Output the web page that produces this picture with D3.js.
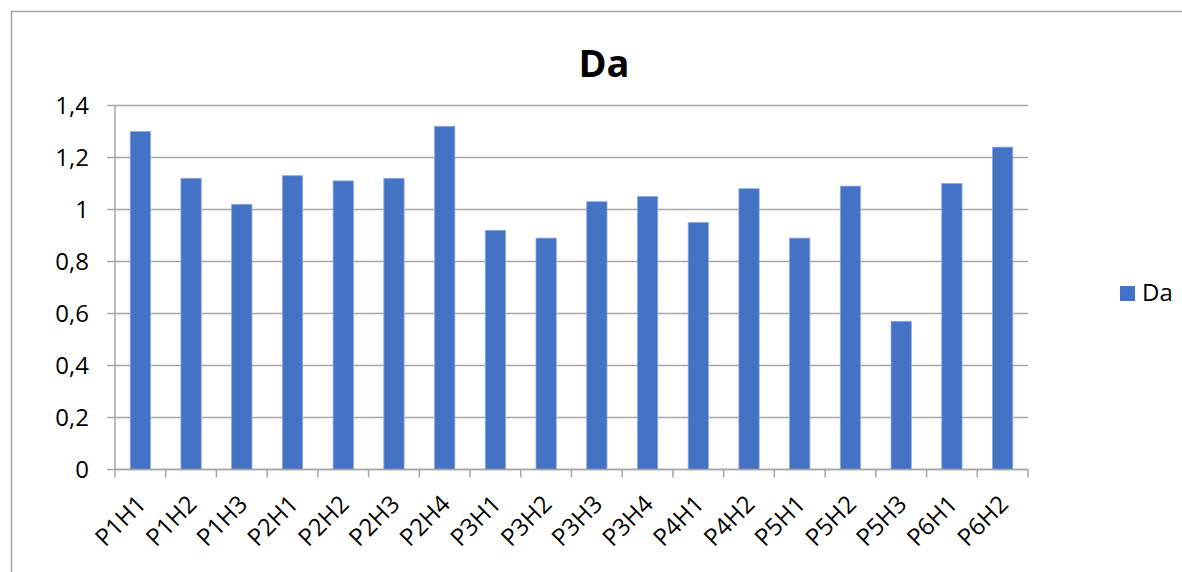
<!DOCTYPE html>
<html>
<head>
<meta charset="utf-8">
<script src="https://cdn.jsdelivr.net/npm/d3@7"></script>
<style>
	body { margin: 0; background: #fff; }
	text { font-family: "Open Sans", "Noto Sans", sans-serif; fill: #000; }
</style>
</head>
<body>
<div id="chart"></div>
<script>
	// chart data
	const categories = ['P1H1', 'P1H2', 'P1H3', 'P2H1', 'P2H2', 'P2H3', 'P2H4', 'P3H1', 'P3H2',
		'P3H3', 'P3H4', 'P4H1', 'P4H2', 'P5H1', 'P5H2', 'P5H3', 'P6H1', 'P6H2'];
	const daValues = [1.30, 1.12, 1.02, 1.13, 1.11, 1.12, 1.32, 0.92, 0.89,
		1.03, 1.05, 0.95, 1.08, 0.89, 1.09, 0.57, 1.10, 1.24];
	const yTicks = [0, 0.2, 0.4, 0.6, 0.8, 1, 1.2, 1.4];
	const seriesName = 'Da';

	const width = 1182;
	const height = 572;
	const plot = { left: 115, right: 1028, top: 105.5, bottom: 469.5 };
	const barColor = '#4472C4';
	const gridColor = '#a6a6a6';

	const svg = d3.select('#chart').append('svg')
		.attr('width', width)
		.attr('height', height);

	// outer frame
	svg.append('path')
		.attr('d', `M11.5,${height}V11.5H${width}`)
		.attr('fill', 'none')
		.attr('stroke', '#a6a6a6')
		.attr('stroke-width', 1.5);

	const x = d3.scaleBand()
		.domain(categories)
		.range([plot.left, plot.right])
		.paddingInner(0.6)
		.paddingOuter(0.3);

	const y = d3.scaleLinear()
		.domain([0, 1.4])
		.range([plot.bottom, plot.top]);

	// gridlines
	svg.append('g')
		.selectAll('line')
		.data(yTicks)
		.join('line')
		.attr('x1', plot.left - 8)
		.attr('x2', plot.right)
		.attr('y1', (d) => y(d))
		.attr('y2', (d) => y(d))
		.attr('stroke', gridColor)
		.attr('stroke-width', 1.5);

	// bars
	svg.append('g')
		.selectAll('rect')
		.data(daValues)
		.join('rect')
		.attr('x', (d, i) => x(categories[i]))
		.attr('width', x.bandwidth())
		.attr('y', (d) => y(d))
		.attr('height', (d) => y(0) - y(d))
		.attr('fill', barColor)
		.attr('stroke', '#8eaae0')
		.attr('stroke-width', 0.8);

	// y axis line
	svg.append('line')
		.attr('x1', plot.left).attr('x2', plot.left)
		.attr('y1', plot.top).attr('y2', plot.bottom)
		.attr('stroke', gridColor)
		.attr('stroke-width', 1.5);

	// y labels
	const fmt = (d) => String(d).replace('.', ',');
	svg.append('g')
		.selectAll('text')
		.data(yTicks)
		.join('text')
		.attr('x', plot.left - 26)
		.attr('y', (d) => y(d))
		.attr('dy', '0.36em')
		.attr('text-anchor', 'end')
		.style('font-size', '24px')
		.text(fmt);

	// x axis ticks between categories
	const step = x.step();
	const tickPos = d3.range(categories.length + 1).map((i) => plot.left + i * step);
	svg.append('g')
		.selectAll('line')
		.data(tickPos)
		.join('line')
		.attr('x1', (d) => d).attr('x2', (d) => d)
		.attr('y1', plot.bottom).attr('y2', plot.bottom + 8)
		.attr('stroke', gridColor)
		.attr('stroke-width', 1.5);

	svg.append('line')
		.attr('x1', plot.left).attr('x2', plot.right)
		.attr('y1', plot.bottom).attr('y2', plot.bottom)
		.attr('stroke', gridColor)
		.attr('stroke-width', 1.5);

	// x labels, rotated
	svg.append('g')
		.selectAll('text')
		.data(categories)
		.join('text')
		.attr('transform', (d) => `translate(${x(d) + x.bandwidth() / 2 + 1},${plot.bottom + 30}) rotate(-45)`)
		.attr('text-anchor', 'end')
		.attr('dy', '0.36em')
		.style('font-size', '24px')
		.text((d) => d);

	// title
	svg.append('text')
		.attr('x', 604)
		.attr('y', 77)
		.attr('text-anchor', 'middle')
		.style('font-size', '38px')
		.style('font-weight', 'bold')
		.text(seriesName);

	// legend
	const legend = svg.append('g').attr('transform', 'translate(1120,286)');
	legend.append('rect')
		.attr('width', 15)
		.attr('height', 15)
		.attr('fill', barColor);
	legend.append('text')
		.attr('x', 22)
		.attr('y', 15)
		.style('font-size', '24px')
		.text(seriesName);
</script>
</body>
</html>
